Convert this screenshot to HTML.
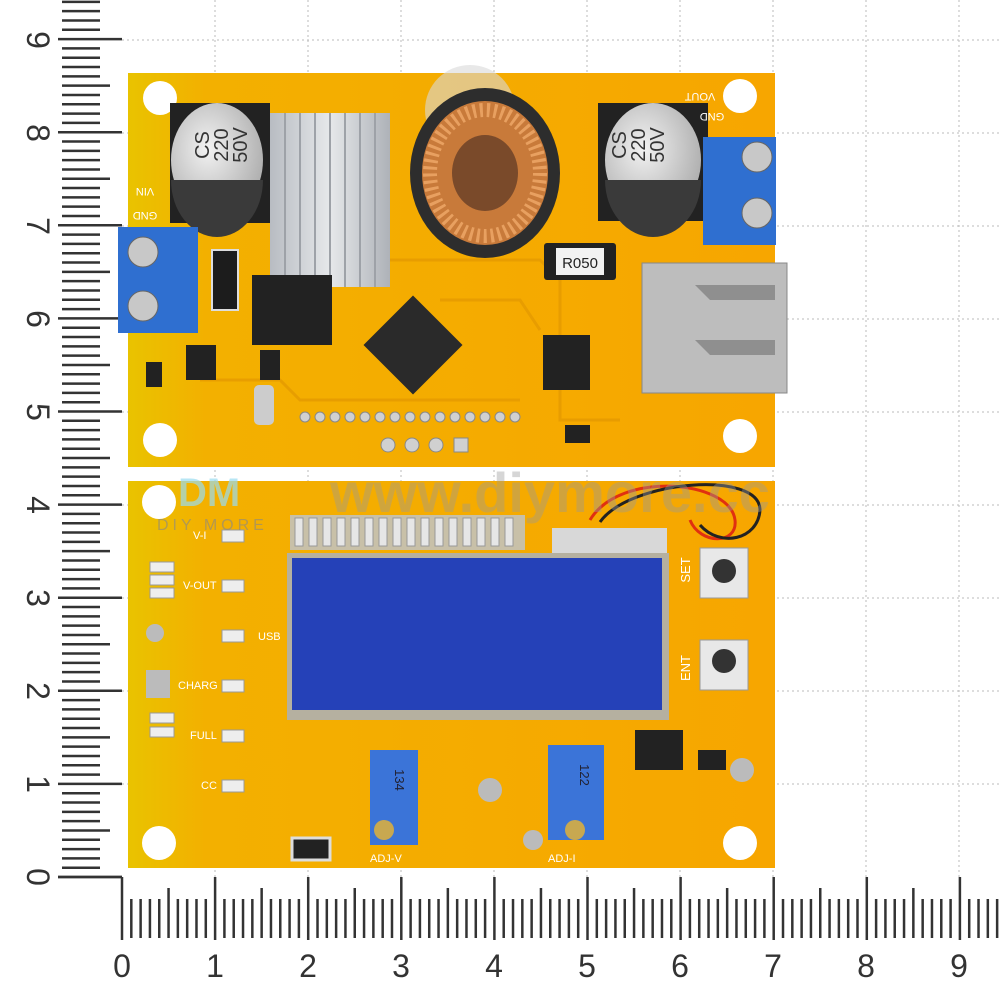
<!DOCTYPE html>
<html><head><meta charset="utf-8"><style>
html,body{margin:0;padding:0;background:#fff;width:1000px;height:1000px;overflow:hidden}
svg{display:block}
text{font-family:"Liberation Sans",sans-serif}
</style></head><body>
<svg width="1000" height="1000" viewBox="0 0 1000 1000" xmlns="http://www.w3.org/2000/svg">
<defs>
<linearGradient id="bd" x1="0" x2="1" y1="0" y2="0">
<stop offset="0" stop-color="#e9c300"/><stop offset="0.12" stop-color="#f3b000"/><stop offset="1" stop-color="#f7a600"/>
</linearGradient>
<linearGradient id="hs" x1="0" x2="1"><stop offset="0" stop-color="#b8bcc2"/><stop offset="0.5" stop-color="#e6e8ea"/><stop offset="1" stop-color="#aeb2b8"/></linearGradient>
<radialGradient id="cap" cx="0.4" cy="0.4" r="0.7"><stop offset="0" stop-color="#f2f2f2"/><stop offset="1" stop-color="#a8a8a8"/></radialGradient>
</defs>
<g stroke="#bbb" stroke-width="1" stroke-dasharray="2,3">
<line x1="215" y1="0" x2="215" y2="877"/><line x1="308" y1="0" x2="308" y2="877"/><line x1="401" y1="0" x2="401" y2="877"/><line x1="494" y1="0" x2="494" y2="877"/><line x1="587" y1="0" x2="587" y2="877"/><line x1="680" y1="0" x2="680" y2="877"/><line x1="773" y1="0" x2="773" y2="877"/><line x1="866" y1="0" x2="866" y2="877"/><line x1="959" y1="0" x2="959" y2="877"/>
<line x1="122" y1="784" x2="1000" y2="784"/><line x1="122" y1="691" x2="1000" y2="691"/><line x1="122" y1="598" x2="1000" y2="598"/><line x1="122" y1="505" x2="1000" y2="505"/><line x1="122" y1="412" x2="1000" y2="412"/><line x1="122" y1="319" x2="1000" y2="319"/><line x1="122" y1="226" x2="1000" y2="226"/><line x1="122" y1="133" x2="1000" y2="133"/><line x1="122" y1="40" x2="1000" y2="40"/>
</g>
<g id="lt" stroke="#333" stroke-width="2.5"></g>
<g id="bt" stroke="#333" stroke-width="2.5"></g>
<script>
(function(){var ns="http://www.w3.org/2000/svg";var lt=document.getElementById("lt"),bt=document.getElementById("bt");
for(var i=0;i<=98;i++){var y=877-i*9.31;if(y<0)break;var l=document.createElementNS(ns,"line");var x1=62,x2=100;if(i%10==0){x1=58;x2=122;}else if(i%5==0){x2=110;}
l.setAttribute("x1",x1);l.setAttribute("x2",x2);l.setAttribute("y1",y);l.setAttribute("y2",y);lt.appendChild(l);}
for(var i=0;i<=95;i++){var x=122+i*9.31;if(x>1000)break;var l=document.createElementNS(ns,"line");var y1=899,y2=938;if(i%10==0){y1=877;y2=940;}else if(i%5==0){y1=888;}
l.setAttribute("x1",x);l.setAttribute("x2",x);l.setAttribute("y1",y1);l.setAttribute("y2",y2);bt.appendChild(l);}})();
</script>
<line x1="58" y1="877" x2="122" y2="877" stroke="#333" stroke-width="2.5"/>
<g font-size="32" fill="#333" text-anchor="middle">
<text x="122" y="977">0</text><text x="215" y="977">1</text><text x="308" y="977">2</text><text x="401" y="977">3</text><text x="494" y="977">4</text><text x="587" y="977">5</text><text x="680" y="977">6</text><text x="773" y="977">7</text><text x="866" y="977">8</text><text x="959" y="977">9</text>
<text transform="translate(27,877) rotate(90)">0</text><text transform="translate(27,784) rotate(90)">1</text><text transform="translate(27,691) rotate(90)">2</text><text transform="translate(27,598) rotate(90)">3</text><text transform="translate(27,505) rotate(90)">4</text><text transform="translate(27,412) rotate(90)">5</text><text transform="translate(27,319) rotate(90)">6</text><text transform="translate(27,226) rotate(90)">7</text><text transform="translate(27,133) rotate(90)">8</text><text transform="translate(27,40) rotate(90)">9</text>
</g>

<rect x="128" y="73" width="647" height="394" fill="url(#bd)"/>
<g fill="#fff"><circle cx="160" cy="98" r="17"/><circle cx="740" cy="96" r="17"/><circle cx="160" cy="440" r="17"/><circle cx="740" cy="436" r="17"/></g>
<g stroke="#e59a00" stroke-width="3" fill="none" opacity="0.8">
<path d="M300 300 L360 260 L540 260 L560 280 L560 420 L620 420"/><path d="M200 380 L280 380 L300 400 L520 400"/><path d="M440 300 L520 300 L540 330"/>
</g>
<rect x="170" y="103" width="100" height="120" fill="#222"/>
<ellipse cx="217" cy="160" rx="46" ry="57" fill="url(#cap)"/>
<path d="M171 180 A46 57 0 0 0 263 180 Z" fill="#3a3a3a"/>
<text transform="translate(209,145) rotate(-90)" font-size="20" fill="#333" text-anchor="middle">CS</text>
<text transform="translate(228,145) rotate(-90)" font-size="20" fill="#333" text-anchor="middle">220</text>
<text transform="translate(247,145) rotate(-90)" font-size="20" fill="#333" text-anchor="middle">50V</text>
<text transform="translate(145,188) rotate(180)" font-size="11" fill="#fff" text-anchor="middle">VIN</text>
<text transform="translate(145,212) rotate(180)" font-size="11" fill="#fff" text-anchor="middle">GND</text>
<rect x="270" y="113" width="120" height="174" fill="url(#hs)"/>
<g stroke="#9ea2a8" stroke-width="2"><line x1="285" y1="113" x2="285" y2="287"/><line x1="300" y1="113" x2="300" y2="287"/><line x1="315" y1="113" x2="315" y2="287"/><line x1="330" y1="113" x2="330" y2="287"/><line x1="345" y1="113" x2="345" y2="287"/><line x1="360" y1="113" x2="360" y2="287"/><line x1="375" y1="113" x2="375" y2="287"/></g>
<rect x="252" y="275" width="80" height="70" fill="#222"/>
<rect x="212" y="250" width="26" height="60" fill="#1c1c1c" stroke="#ddd" stroke-width="2"/>
<circle cx="470" cy="110" r="45" fill="#d8d8d8" opacity="0.6"/>
<ellipse cx="485" cy="173" rx="75" ry="85" fill="#2d2d2d"/>
<ellipse cx="485" cy="173" rx="63" ry="72" fill="#c87a3a"/>
<ellipse cx="485" cy="173" rx="55" ry="63" fill="none" stroke="#e8a060" stroke-width="14" stroke-dasharray="3,4"/>
<ellipse cx="485" cy="173" rx="33" ry="38" fill="#7a4a2a"/>
<rect x="598" y="103" width="110" height="118" fill="#222"/>
<ellipse cx="653" cy="160" rx="48" ry="57" fill="url(#cap)"/>
<path d="M605 180 A48 57 0 0 0 701 180 Z" fill="#3a3a3a"/>
<text transform="translate(626,145) rotate(-90)" font-size="20" fill="#333" text-anchor="middle">CS</text>
<text transform="translate(645,145) rotate(-90)" font-size="20" fill="#333" text-anchor="middle">220</text>
<text transform="translate(664,145) rotate(-90)" font-size="20" fill="#333" text-anchor="middle">50V</text>
<text transform="translate(700,93) rotate(180)" font-size="11" fill="#fff" text-anchor="middle">VOUT</text>
<text transform="translate(712,113) rotate(180)" font-size="11" fill="#fff" text-anchor="middle">GND</text>
<rect x="703" y="137" width="73" height="108" fill="#2f6fd0"/>
<circle cx="757" cy="157" r="15" fill="#c8c8c8" stroke="#666"/><circle cx="757" cy="213" r="15" fill="#c8c8c8" stroke="#666"/>
<rect x="118" y="227" width="80" height="106" fill="#2f6fd0"/>
<circle cx="143" cy="252" r="15" fill="#c8c8c8" stroke="#666"/><circle cx="143" cy="306" r="15" fill="#c8c8c8" stroke="#666"/>
<rect x="544" y="243" width="72" height="37" rx="3" fill="#222"/>
<rect x="556" y="248" width="48" height="27" fill="#f2f2f2"/>
<text x="580" y="268" font-size="15" fill="#222" text-anchor="middle">R050</text>
<rect x="642" y="263" width="145" height="130" fill="#bdbdbd" stroke="#888"/>
<path d="M695 285 L775 285 L775 300 L710 300 Z M695 340 L775 340 L775 355 L710 355 Z" fill="#8f8f8f"/>
<rect x="378" y="310" width="70" height="70" fill="#2a2a2a" transform="rotate(45 413 345)"/>
<rect x="543" y="335" width="47" height="55" fill="#222"/>
<rect x="260" y="350" width="20" height="30" fill="#222"/><rect x="186" y="345" width="30" height="35" fill="#222"/><rect x="146" y="362" width="16" height="25" fill="#222"/>
<rect x="565" y="425" width="25" height="18" fill="#222"/>
<g fill="#d0d0d0" stroke="#888"><circle cx="305" cy="417" r="5"/><circle cx="320" cy="417" r="5"/><circle cx="335" cy="417" r="5"/><circle cx="350" cy="417" r="5"/><circle cx="365" cy="417" r="5"/><circle cx="380" cy="417" r="5"/><circle cx="395" cy="417" r="5"/><circle cx="410" cy="417" r="5"/><circle cx="425" cy="417" r="5"/><circle cx="440" cy="417" r="5"/><circle cx="455" cy="417" r="5"/><circle cx="470" cy="417" r="5"/><circle cx="485" cy="417" r="5"/><circle cx="500" cy="417" r="5"/><circle cx="515" cy="417" r="5"/>
<circle cx="388" cy="445" r="7"/><circle cx="412" cy="445" r="7"/><circle cx="436" cy="445" r="7"/><rect x="454" y="438" width="14" height="14"/></g>
<rect x="254" y="385" width="20" height="40" rx="5" fill="#ccc"/>

<rect x="128" y="481" width="647" height="387" fill="url(#bd)"/>
<g fill="#fff"><circle cx="159" cy="502" r="17"/><circle cx="159" cy="843" r="17"/><circle cx="740" cy="843" r="17"/></g>
<rect x="290" y="515" width="235" height="35" fill="#c8c0a8"/>
<g fill="#e6e6e6" stroke="#999"><rect x="295" y="518" width="8" height="28"/><rect x="309" y="518" width="8" height="28"/><rect x="323" y="518" width="8" height="28"/><rect x="337" y="518" width="8" height="28"/><rect x="351" y="518" width="8" height="28"/><rect x="365" y="518" width="8" height="28"/><rect x="379" y="518" width="8" height="28"/><rect x="393" y="518" width="8" height="28"/><rect x="407" y="518" width="8" height="28"/><rect x="421" y="518" width="8" height="28"/><rect x="435" y="518" width="8" height="28"/><rect x="449" y="518" width="8" height="28"/><rect x="463" y="518" width="8" height="28"/><rect x="477" y="518" width="8" height="28"/><rect x="491" y="518" width="8" height="28"/><rect x="505" y="518" width="8" height="28"/></g>
<rect x="552" y="528" width="115" height="32" fill="#d8d8d8"/>
<rect x="287" y="553" width="382" height="167" fill="#b5b0a0"/>
<rect x="292" y="558" width="370" height="152" fill="#2541b8"/>
<rect x="700" y="548" width="48" height="50" fill="#e8e8e8" stroke="#999"/><circle cx="724" cy="571" r="12" fill="#333"/>
<rect x="700" y="640" width="48" height="50" fill="#e8e8e8" stroke="#999"/><circle cx="724" cy="661" r="12" fill="#333"/>
<text transform="translate(690,570) rotate(-90)" font-size="13" fill="#fff" text-anchor="middle">SET</text>
<text transform="translate(690,668) rotate(-90)" font-size="13" fill="#fff" text-anchor="middle">ENT</text>
<rect x="635" y="730" width="48" height="40" fill="#222"/>
<rect x="698" y="750" width="28" height="20" fill="#222"/>
<circle cx="742" cy="770" r="12" fill="#bbb"/>
<rect x="370" y="750" width="48" height="95" fill="#3b74d8"/><circle cx="384" cy="830" r="10" fill="#c8a850"/>
<rect x="548" y="745" width="56" height="95" fill="#3b74d8"/><circle cx="575" cy="830" r="10" fill="#c8a850"/>
<text transform="translate(395,780) rotate(90)" font-size="13" fill="#223" text-anchor="middle">134</text>
<text transform="translate(580,775) rotate(90)" font-size="13" fill="#223" text-anchor="middle">122</text>
<circle cx="490" cy="790" r="12" fill="#bbb"/><circle cx="533" cy="840" r="10" fill="#bbb"/>
<rect x="292" y="838" width="38" height="22" fill="#222" stroke="#ddd" stroke-width="3"/>
<g fill="#eee" stroke="#999"><rect x="222" y="530" width="22" height="12"/><rect x="222" y="580" width="22" height="12"/><rect x="222" y="630" width="22" height="12"/><rect x="222" y="680" width="22" height="12"/><rect x="222" y="730" width="22" height="12"/><rect x="222" y="780" width="22" height="12"/>
<rect x="150" y="562" width="24" height="10"/><rect x="150" y="575" width="24" height="10"/><rect x="150" y="588" width="24" height="10"/><rect x="150" y="713" width="24" height="10"/><rect x="150" y="727" width="24" height="10"/></g>
<circle cx="155" cy="633" r="9" fill="#bbb"/><rect x="146" y="670" width="24" height="28" fill="#bbb"/>
<g font-size="11" fill="#fff" font-family="Liberation Mono,monospace">
<text x="193" y="539">V-I</text><text x="183" y="589">V-OUT</text><text x="258" y="640">USB</text><text x="178" y="689">CHARG</text><text x="190" y="739">FULL</text><text x="201" y="789">CC</text><text x="370" y="862">ADJ-V</text><text x="548" y="862">ADJ-I</text></g>
<path d="M590 520 C620 470 730 480 735 520 C738 545 700 545 690 520" fill="none" stroke="#e03010" stroke-width="3"/>
<path d="M600 522 C630 480 760 470 760 510 C758 540 720 548 700 525" fill="none" stroke="#222" stroke-width="3"/>
<text x="330" y="512" font-size="56" font-weight="bold" fill="#9a9a9a" opacity="0.4">www.diymore.cc</text>
<text x="178" y="506" font-size="40" font-weight="bold" fill="#9adcf0" opacity="0.7">DM</text>
<text x="157" y="530" font-size="16" fill="#888" opacity="0.6" letter-spacing="4">DIY MORE</text>
</svg>
</body></html>
